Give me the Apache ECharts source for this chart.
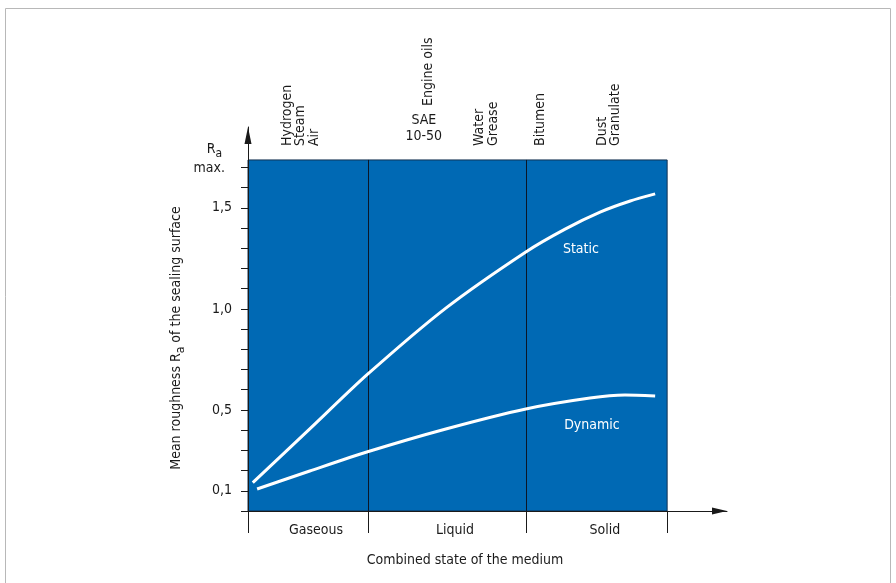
<!DOCTYPE html>
<html>
<head>
    <meta charset="UTF-8"/>
    <title>Mean roughness of the sealing surface</title>
    <script src="https://cdn.jsdelivr.net/npm/echarts@6.0.0/dist/echarts.min.js"></script>
    <style>
        html, body {margin: 0; padding: 0; background: #fff;}
        #chart {width: 896px; height: 583px;}
    </style>
</head>
<body>
<div id="chart"></div>
<script type="text/javascript">
    // x runs along the "state of the medium" axis, 0 = y axis, 10 = arrow tip
    const stateNames = ['Gaseous', 'Liquid', 'Solid'];
    const stateBounds = [0, 2.5, 5.8, 8.75];
    const stateLabelPos = [1.42, 4.32, 7.45];

    const staticX = [0.10, 1.29, 2.48, 4.13, 5.80, 6.62, 7.35, 7.98, 8.50];
    const staticY = [0.14, 0.406, 0.673, 1.004, 1.282, 1.395, 1.479, 1.534, 1.569];
    const dynamicX = [0.19, 1.29, 2.48, 4.13, 5.80, 7.14, 7.87, 8.50];
    const dynamicY = [0.109, 0.198, 0.292, 0.406, 0.505, 0.559, 0.574, 0.569];

    const yTicks = [0, 0.1, 0.2, 0.3, 0.4, 0.5, 0.6, 0.7, 0.8, 0.9, 1.0, 1.1, 1.2, 1.3, 1.4, 1.5, 1.6, 1.7];
    const yLabels = [0.1, 0.5, 1.0, 1.5];
    const yTop = 1.737; // top of the blue field

    // media written above the chart
    const topNotes = ['Hydrogen\nSteam\nAir', 'Engine oils', 'Water\nGrease', 'Bitumen', 'Dust\nGranulate'];
    const topNoteX = [1.10, 3.76, 4.98, 6.10, 7.53];

    const FONT = "'Liberation Sans Narrow', 'DejaVu Sans Condensed', sans-serif";
    const INK = '#1a1a1a';
    const BLUE = '#0069b4';
    const FS = 14;

    const chart = echarts.init(document.getElementById('chart'));
    const opt = {
        backgroundColor: '#fff',
        animation: false,
        grid: {left: 248, right: 169, top: 127, bottom: 72},
        xAxis: {
            type: 'value', min: 0, max: 10, z: 4,
            splitLine: {show: false},
            axisLine: {
                show: true, onZero: false,
                lineStyle: {color: INK, width: 1},
                symbol: ['none', 'triangle'], symbolSize: [7, 15], symbolOffset: [0, -7.5]
            },
            axisTick: {show: true, inside: false, length: 22, customValues: stateBounds, lineStyle: {color: INK}},
            axisLabel: {
                customValues: stateLabelPos, margin: 12,
                fontFamily: FONT, fontSize: FS, color: INK,
                formatter: function (v) {
                    let best = 0;
                    stateLabelPos.forEach(function (p, i) {
                        if (Math.abs(p - v) < Math.abs(stateLabelPos[best] - v)) best = i;
                    });
                    return stateNames[best];
                }
            }
        },
        yAxis: {
            type: 'value', min: 0, max: 1.9, z: 4,
            splitLine: {show: false},
            axisLine: {
                show: true, onZero: false,
                lineStyle: {color: INK, width: 1},
                symbol: ['none', 'triangle'], symbolSize: [7, 17], symbolOffset: [0, -8.5]
            },
            axisTick: {show: true, inside: false, length: 7, customValues: yTicks, lineStyle: {color: INK}},
            axisLabel: {
                customValues: yLabels, margin: 16,
                fontFamily: FONT, fontSize: FS, color: INK,
                formatter: function (v) {
                    return v.toFixed(1).replace('.', ',');
                }
            }
        },
        series: [{
            name: 'field',
            type: 'line',
            z: 1,
            silent: true,
            symbol: 'none',
            lineStyle: {opacity: 0},
            data: [[0, 0]],
            markArea: {
                silent: true, z: 1,
                itemStyle: {color: BLUE, borderColor: '#123050', borderWidth: 1},
                data: [[{coord: [0, 0]}, {coord: [stateBounds[3], yTop]}]]
            },
            markLine: {
                silent: true, z: 2, symbol: 'none',
                label: {show: false},
                lineStyle: {color: '#0b1626', width: 1, type: 'solid'},
                data: [
                    [{coord: [stateBounds[1], 0]}, {coord: [stateBounds[1], yTop]}],
                    [{coord: [stateBounds[2], 0]}, {coord: [stateBounds[2], yTop]}]
                ]
            }
        }, {
            name: 'Static',
            type: 'line',
            z: 3,
            smooth: 0.25,
            symbol: 'none',
            lineStyle: {color: '#fff', width: 3},
            data: staticX.map(function (x, i) { return [x, staticY[i]]; }),
            markPoint: {
                silent: true, symbol: 'circle', symbolSize: 1,
                itemStyle: {color: 'rgba(0,0,0,0)'},
                label: {show: true, position: 'inside', color: '#fff', fontFamily: FONT, fontSize: FS, formatter: 'Static'},
                data: [{coord: [6.95, 1.296]}]
            }
        }, {
            name: 'Dynamic',
            type: 'line',
            z: 3,
            smooth: 0.25,
            symbol: 'none',
            lineStyle: {color: '#fff', width: 3},
            data: dynamicX.map(function (x, i) { return [x, dynamicY[i]]; }),
            markPoint: {
                silent: true, symbol: 'circle', symbolSize: 1,
                itemStyle: {color: 'rgba(0,0,0,0)'},
                label: {show: true, position: 'inside', color: '#fff', fontFamily: FONT, fontSize: FS, formatter: 'Dynamic'},
                data: [{coord: [7.18, 0.426]}]
            }
        }]
    };
    chart.setOption(opt);

    // texts around the plot
    const graphics = [{
        type: 'rect', silent: true,
        shape: {x: 5.5, y: 8.5, width: 885, height: 600},
        style: {fill: 'none', stroke: '#b8b8b8', lineWidth: 1}
    }, {
        type: 'text', x: 465, y: 560,
        style: {text: 'Combined state of the medium', font: FS + 'px ' + FONT, fill: INK, align: 'center', verticalAlign: 'middle'}
    }, {
        type: 'text', x: 178, y: 338, rotation: Math.PI / 2,
        style: {
            text: '{t|Mean roughness R}{s|a}{t| of the sealing surface}',
            align: 'center', verticalAlign: 'middle', fill: INK,
            rich: {
                t: {fontFamily: FONT, fontSize: FS, lineHeight: 18, verticalAlign: 'top', fill: INK},
                s: {fontFamily: FONT, fontSize: 12, lineHeight: 18, verticalAlign: 'top', padding: [6, 0, 0, 0], fill: INK}
            }
        }
    }, {
        type: 'text', x: 222, y: 150,
        style: {
            text: '{t|R}{s|a}',
            align: 'right', verticalAlign: 'middle', fill: INK,
            rich: {
                t: {fontFamily: FONT, fontSize: FS, lineHeight: 16, verticalAlign: 'top', fill: INK},
                s: {fontFamily: FONT, fontSize: 12, lineHeight: 16, verticalAlign: 'top', padding: [6, 0, 0, 0], fill: INK}
            }
        }
    }, {
        type: 'text', x: 225, y: 168,
        style: {text: 'max.', font: FS + 'px ' + FONT, fill: INK, align: 'right', verticalAlign: 'middle'}
    }];

    topNotes.forEach(function (t, i) {
        const px = chart.convertToPixel({gridIndex: 0}, [topNoteX[i], 0])[0];
        graphics.push({
            type: 'text', x: px, y: t === 'Engine oils' ? 106 : 146, rotation: Math.PI / 2,
            style: {text: t, font: FS + 'px ' + FONT, fill: INK, align: 'left', verticalAlign: 'middle', lineHeight: 13.5}
        });
    });
    const saeX = chart.convertToPixel({gridIndex: 0}, [3.67, 0])[0];
    graphics.push({
        type: 'text', x: saeX, y: 128,
        style: {text: 'SAE\n10-50', font: FS + 'px ' + FONT, fill: INK, align: 'center', verticalAlign: 'middle', lineHeight: 16}
    });

    chart.setOption({graphic: graphics});
</script>
</body>
</html>
